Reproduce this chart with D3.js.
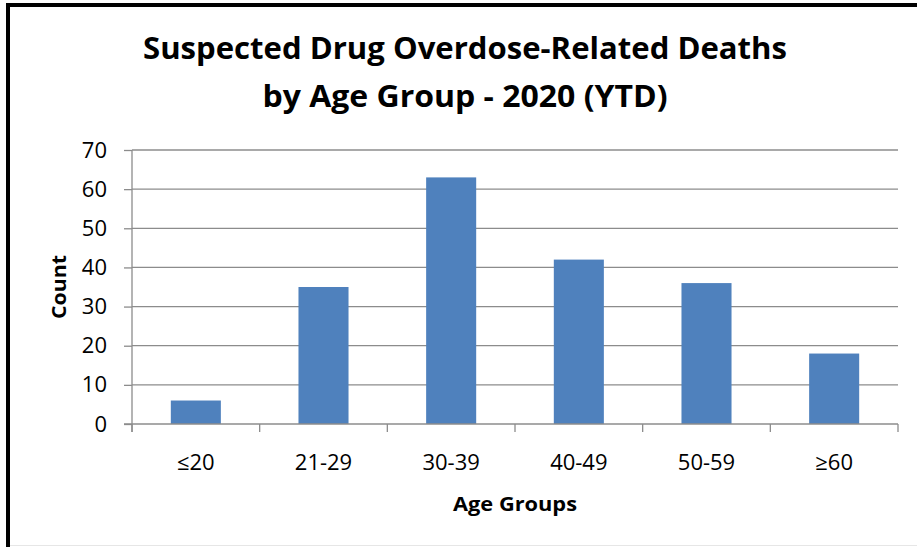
<!DOCTYPE html>
<html>
<head>
<meta charset="utf-8">
<script src="https://cdn.jsdelivr.net/npm/d3@7"></script>
<style>
  body { margin: 0; background: #fff; }
  svg { display: block; font-family: "Open Sans", Lato, sans-serif; }
</style>
</head>
<body>
<div class="chart"></div>
<script>
// data
var ageGroups = ["≤20", "21-29", "30-39", "40-49", "50-59", "≥60"];
var deathCounts = [6, 35, 63, 42, 36, 18];
var yTicks = [0, 10, 20, 30, 40, 50, 60, 70];
var titleLines = ["Suspected Drug Overdose-Related Deaths", "by Age Group - 2020 (YTD)"];

var svgWidth = 917, svgHeight = 547;
var margin = { top: 150, right: 19, bottom: 123, left: 132 };
var width = svgWidth - margin.left - margin.right;
var height = svgHeight - margin.top - margin.bottom;

var svg = d3.select(".chart")
  .append("svg")
  .attr("width", svgWidth)
  .attr("height", svgHeight);

// frame of the chart picture
svg.append("rect").attr("x", 6).attr("y", 3).attr("width", 4).attr("height", svgHeight - 3).attr("fill", "#000");
svg.append("rect").attr("x", 6).attr("y", 3).attr("width", svgWidth - 6).attr("height", 4).attr("fill", "#000");
svg.append("line").attr("x1", 10).attr("x2", svgWidth).attr("y1", 545.5).attr("y2", 545.5)
  .attr("stroke", "#e6e6e6").attr("stroke-width", 1);

// title
svg.append("g").selectAll("text")
  .data(titleLines)
  .enter()
  .append("text")
  .attr("x", 465)
  .attr("y", (d, i) => 59 + i * 48)
  .attr("text-anchor", "middle")
  .attr("font-size", 30)
  .attr("font-weight", "bold")
  .attr("textLength", (d, i) => i === 0 ? 644 : 405)
  .attr("lengthAdjust", "spacingAndGlyphs")
  .text(d => d);

var chartGroup = svg.append("g")
  .attr("transform", `translate(${margin.left}, ${margin.top})`);

var xScale = d3.scaleBand()
  .domain(ageGroups)
  .range([0, width]);

var barScale = d3.scaleBand()
  .domain(ageGroups)
  .range([0, width])
  .paddingInner(0.608)
  .paddingOuter(0.304);

var yScale = d3.scaleLinear()
  .domain([0, 70])
  .range([height, 0]);

// gridlines + y axis
var leftAxis = d3.axisLeft(yScale)
  .tickValues(yTicks)
  .tickSize(8)
  .tickPadding(17);

chartGroup.append("g")
  .selectAll("line")
  .data(yTicks.slice(1))
  .enter()
  .append("line")
  .attr("x1", 0)
  .attr("x2", width)
  .attr("y1", d => yScale(d))
  .attr("y2", d => yScale(d))
  .attr("stroke", "#8c8c8c")
  .attr("stroke-width", 1.3);

var yAxis = chartGroup.append("g").call(leftAxis);
yAxis.select(".domain").remove();
yAxis.selectAll("line").attr("stroke", "#8c8c8c").attr("stroke-width", 1.3);
yAxis.selectAll("text")
  .attr("font-size", 22)
  .attr("font-family", "'Open Sans', Lato, sans-serif")
  .attr("fill", "#000");

// bars
chartGroup.append("g")
  .selectAll("rect")
  .data(deathCounts)
  .enter()
  .append("rect")
  .attr("x", (d, i) => barScale(ageGroups[i]))
  .attr("width", barScale.bandwidth())
  .attr("y", d => yScale(d))
  .attr("height", d => height - yScale(d))
  .attr("fill", "#4f81bd");

// axis lines
chartGroup.append("line")
  .attr("x1", 0).attr("x2", 0)
  .attr("y1", 0).attr("y2", height + 8)
  .attr("stroke", "#8c8c8c").attr("stroke-width", 1.3);
chartGroup.append("line")
  .attr("x1", -8).attr("x2", width)
  .attr("y1", height).attr("y2", height)
  .attr("stroke", "#8c8c8c").attr("stroke-width", 1.3);

// x ticks at category boundaries
var boundaries = ageGroups.map(d => xScale(d)).concat([width]);
chartGroup.append("g")
  .selectAll("line")
  .data(boundaries)
  .enter()
  .append("line")
  .attr("x1", d => d).attr("x2", d => d)
  .attr("y1", height).attr("y2", height + 8)
  .attr("stroke", "#8c8c8c").attr("stroke-width", 1.3);

// x labels
chartGroup.append("g")
  .selectAll("text")
  .data(ageGroups)
  .enter()
  .append("text")
  .attr("x", d => xScale(d) + xScale.bandwidth() / 2)
  .attr("y", height + 46)
  .attr("text-anchor", "middle")
  .attr("font-size", 22)
  .text(d => d);

// axis titles
svg.append("text")
  .attr("x", margin.left + width / 2)
  .attr("y", 511)
  .attr("text-anchor", "middle")
  .attr("font-size", 20)
  .attr("font-weight", "bold")
  .attr("textLength", 124)
  .attr("lengthAdjust", "spacingAndGlyphs")
  .text("Age Groups");

svg.append("text")
  .attr("transform", `translate(66, ${margin.top + height / 2}) rotate(-90)`)
  .attr("text-anchor", "middle")
  .attr("font-size", 20)
  .attr("font-weight", "bold")
  .attr("textLength", 64)
  .attr("lengthAdjust", "spacingAndGlyphs")
  .text("Count");
</script>
</body>
</html>
